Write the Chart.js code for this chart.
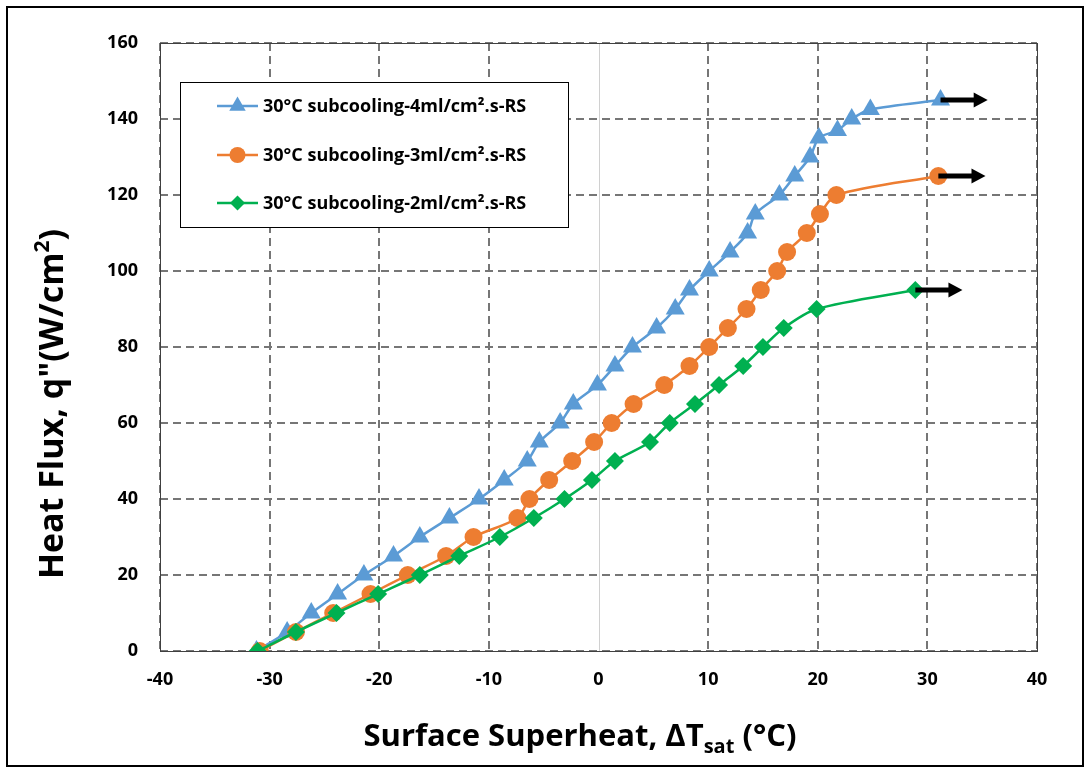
<!DOCTYPE html>
<html>
<head>
<meta charset="utf-8">
<title>Heat flux vs surface superheat</title>
<script src="https://cdn.jsdelivr.net/npm/chart.js@4.4.0/dist/chart.umd.min.js"></script>
<style>
  html, body { margin: 0; padding: 0; background: #fff; }
  #wrap { position: relative; width: 1089px; height: 772px; }
</style>
</head>
<body>
<div id="wrap"><canvas id="chart" width="1089" height="772"></canvas></div>
<script>
// --- data (x = superheat °C, y = heat flux W/cm²) ---
const seriesLabels = [
    '30°C subcooling-4ml/cm².s-RS',
    '30°C subcooling-3ml/cm².s-RS',
    '30°C subcooling-2ml/cm².s-RS'
];
const seriesColors = ['#5B9BD5', '#ED7D31', '#00B050'];

const flow4X = [-31.2, -28.4, -26.2, -23.8, -21.4, -18.7, -16.3, -13.6, -10.9, -8.6, -6.5, -5.4, -3.5, -2.3, -0.1,
    1.5, 3.1, 5.3, 7.0, 8.3, 10.1, 12.0, 13.6, 14.3, 16.5, 17.9, 19.3, 20.1, 21.8, 23.1, 24.8, 31.2];
const flow4Y = [0, 5, 10, 15, 20, 25, 30, 35, 40, 45, 50, 55, 60, 65, 70,
    75, 80, 85, 90, 95, 100, 105, 110, 115, 120, 125, 130, 135, 137, 140, 142.5, 145];

const flow3X = [-30.9, -27.6, -24.2, -20.8, -17.4, -13.9, -11.4, -7.4, -6.3, -4.5, -2.4, -0.4, 1.2,
    3.2, 6.0, 8.3, 10.1, 11.8, 13.5, 14.8, 16.3, 17.2, 19.0, 20.2, 21.7, 31.0];
const flow3Y = [0, 5, 10, 15, 20, 25, 30, 35, 40, 45, 50, 55, 60,
    65, 70, 75, 80, 85, 90, 95, 100, 105, 110, 115, 120, 125];

const flow2X = [-31.1, -27.6, -23.9, -20.1, -16.3, -12.7, -9.0, -5.9, -3.1, -0.6,
    1.5, 4.7, 6.5, 8.8, 11.0, 13.2, 15.0, 16.9, 19.9, 28.9];
const flow2Y = [0, 5, 10, 15, 20, 25, 30, 35, 40, 45,
    50, 55, 60, 65, 70, 75, 80, 85, 90, 95];

const xTicks = [-40, -30, -20, -10, 0, 10, 20, 30, 40];
const yTicks = [0, 20, 40, 60, 80, 100, 120, 140, 160];

// arrow after the last point of each curve, in x units
const ARROW_LENGTH = 4.3;

const toPoints = (xs, ys) => xs.map((x, i) => ({ x: x, y: ys[i] }));

const FONT = '"Open Sans", "Noto Sans", sans-serif';
const GRID_COLOR = '#767676';

// draws text made of runs, each with its own size and baseline shift
function drawRuns(ctx, runs, x, y) {
    let total = 0;
    runs.forEach(r => {
        ctx.font = `bold ${r.size}px ${FONT}`;
        r.w = ctx.measureText(r.text).width;
        total += r.w;
    });
    let cx = x - total / 2;
    runs.forEach(r => {
        ctx.font = `bold ${r.size}px ${FONT}`;
        ctx.fillText(r.text, cx, y + (r.dy || 0));
        cx += r.w;
    });
}

function drawMarker(ctx, style, x, y, r, color) {
    ctx.fillStyle = color;
    ctx.beginPath();
    if (style === 'triangle') {
        ctx.moveTo(x, y - r);
        ctx.lineTo(x + r * 0.866, y + r * 0.5);
        ctx.lineTo(x - r * 0.866, y + r * 0.5);
    } else if (style === 'rectRot') {
        ctx.moveTo(x, y - r);
        ctx.lineTo(x + r, y);
        ctx.lineTo(x, y + r);
        ctx.lineTo(x - r, y);
    } else {
        ctx.arc(x, y, r, 0, Math.PI * 2);
    }
    ctx.closePath();
    ctx.fill();
}

const decorPlugin = {
    id: 'decor',
    beforeDraw(chart) {
        const ctx = chart.ctx;
        ctx.save();
        ctx.fillStyle = '#fff';
        ctx.fillRect(0, 0, chart.width, chart.height);
        ctx.restore();
    },
    beforeDatasetsDraw(chart) {
        const { ctx, chartArea: a, scales } = chart;
        ctx.save();
        // light vertical axis line at x = 0
        const x0 = Math.round(scales.x.getPixelForValue(0)) + 0.5;
        ctx.strokeStyle = '#d0d0d0';
        ctx.lineWidth = 1;
        ctx.beginPath();
        ctx.moveTo(x0, a.top);
        ctx.lineTo(x0, a.bottom);
        ctx.stroke();
        // plot area frame
        ctx.strokeStyle = '#404040';
        ctx.strokeRect(Math.round(a.left) + 0.5, Math.round(a.top) + 0.5,
            Math.round(a.right - a.left), Math.round(a.bottom - a.top));
        ctx.restore();
    },
    afterDatasetsDraw(chart) {
        const { ctx, scales } = chart;
        ctx.save();
        ctx.fillStyle = '#000';
        ctx.strokeStyle = '#000';
        chart.data.datasets.forEach((ds, i) => {
            const meta = chart.getDatasetMeta(i);
            const last = ds.data[ds.data.length - 1];
            const pt = meta.data[meta.data.length - 1];
            const x1 = pt.x;
            const y = pt.y;
            const x2 = scales.x.getPixelForValue(last.x + ARROW_LENGTH);
            const head = 14;
            ctx.lineWidth = 5;
            ctx.beginPath();
            ctx.moveTo(x1, y);
            ctx.lineTo(x2 - head + 1, y);
            ctx.stroke();
            ctx.beginPath();
            ctx.moveTo(x2, y);
            ctx.lineTo(x2 - head, y - 7.5);
            ctx.lineTo(x2 - head, y + 7.5);
            ctx.closePath();
            ctx.fill();
        });
        ctx.restore();
    },
    afterDraw(chart) {
        const ctx = chart.ctx;
        ctx.save();

        // legend box
        const box = { left: 180, top: 82, right: 568, bottom: 227 };
        ctx.fillStyle = '#fff';
        ctx.fillRect(box.left, box.top, box.right - box.left, box.bottom - box.top);
        ctx.strokeStyle = '#000';
        ctx.lineWidth = 1;
        ctx.strokeRect(box.left + 0.5, box.top + 0.5, box.right - box.left, box.bottom - box.top);
        const rowY = [106, 155, 203];
        const legendSizes = [9.5, 8, 7.5];
        chart.data.datasets.forEach((ds, i) => {
            const y = rowY[i];
            ctx.strokeStyle = ds.borderColor;
            ctx.lineWidth = 2.5;
            ctx.beginPath();
            ctx.moveTo(217, y);
            ctx.lineTo(258, y);
            ctx.stroke();
            drawMarker(ctx, ds.pointStyle, 237.5, y, legendSizes[i], ds.borderColor);
            ctx.fillStyle = '#000';
            ctx.font = `bold 18px ${FONT}`;
            ctx.textAlign = 'left';
            ctx.textBaseline = 'middle';
            ctx.fillText(ds.label, 263, y + 1);
        });

        // axis titles
        ctx.fillStyle = '#000';
        ctx.textAlign = 'left';
        ctx.textBaseline = 'alphabetic';
        drawRuns(ctx, [
            { text: 'Surface Superheat, ΔT', size: 31 },
            { text: 'sat', size: 20, dy: 7 },
            { text: ' (°C)', size: 31 }
        ], 580, 746);

        ctx.save();
        ctx.translate(63, 404);
        ctx.rotate(-Math.PI / 2);
        drawRuns(ctx, [
            { text: 'Heat Flux, q"(W/cm', size: 34 },
            { text: '2', size: 21, dy: -14 },
            { text: ')', size: 34 }
        ], 0, 0);
        ctx.restore();

        // outer frame of the figure
        ctx.strokeStyle = '#000';
        ctx.lineWidth = 2;
        ctx.strokeRect(7, 7, 1076, 759);
        ctx.restore();
    }
};

const ctx = document.getElementById('chart').getContext('2d');
const chart = new Chart(ctx, {
    type: 'line',
    data: {
        datasets: [
            { label: seriesLabels[0], data: toPoints(flow4X, flow4Y), pointStyle: 'triangle', pointRadius: 11, order: 3 },
            { label: seriesLabels[1], data: toPoints(flow3X, flow3Y), pointStyle: 'circle', pointRadius: 9, order: 2 },
            { label: seriesLabels[2], data: toPoints(flow2X, flow2Y), pointStyle: 'rectRot', pointRadius: 9, order: 1 }
        ].map((ds, i) => Object.assign(ds, {
            borderColor: seriesColors[i],
            backgroundColor: seriesColors[i],
            pointBackgroundColor: seriesColors[i],
            pointBorderColor: seriesColors[i],
            pointBorderWidth: 0,
            borderWidth: 2.5,
            tension: 0.3,
            fill: false
        }))
    },
    options: {
        responsive: false,
        animation: false,
        events: [],
        layout: { padding: { top: 43, right: 52, left: 0, bottom: 0 } },
        plugins: {
            legend: { display: false },
            tooltip: { enabled: false }
        },
        scales: {
            x: {
                type: 'linear',
                min: -40,
                max: 40,
                afterBuildTicks: scale => { scale.ticks = xTicks.map(v => ({ value: v })); },
                afterFit: scale => { scale.height = 121; },
                grid: {
                    color: c => (c.tick && c.tick.value === 0) ? 'rgba(0,0,0,0)' : GRID_COLOR,
                    lineWidth: 2,
                    drawTicks: false
                },
                border: { display: false, dash: [8, 5] },
                ticks: {
                    color: '#000',
                    padding: 18,
                    maxRotation: 0,
                    font: { family: FONT, size: 18, weight: 'bold' }
                }
            },
            y: {
                type: 'linear',
                min: 0,
                max: 160,
                afterBuildTicks: scale => { scale.ticks = yTicks.map(v => ({ value: v })); },
                afterFit: scale => { scale.width = 160; },
                grid: {
                    color: GRID_COLOR,
                    lineWidth: 2,
                    drawTicks: false
                },
                border: { display: false, dash: [8, 5] },
                ticks: {
                    color: '#000',
                    padding: 22,
                    font: { family: FONT, size: 18, weight: 'bold' }
                }
            }
        }
    },
    plugins: [decorPlugin]
});
</script>
</body>
</html>
